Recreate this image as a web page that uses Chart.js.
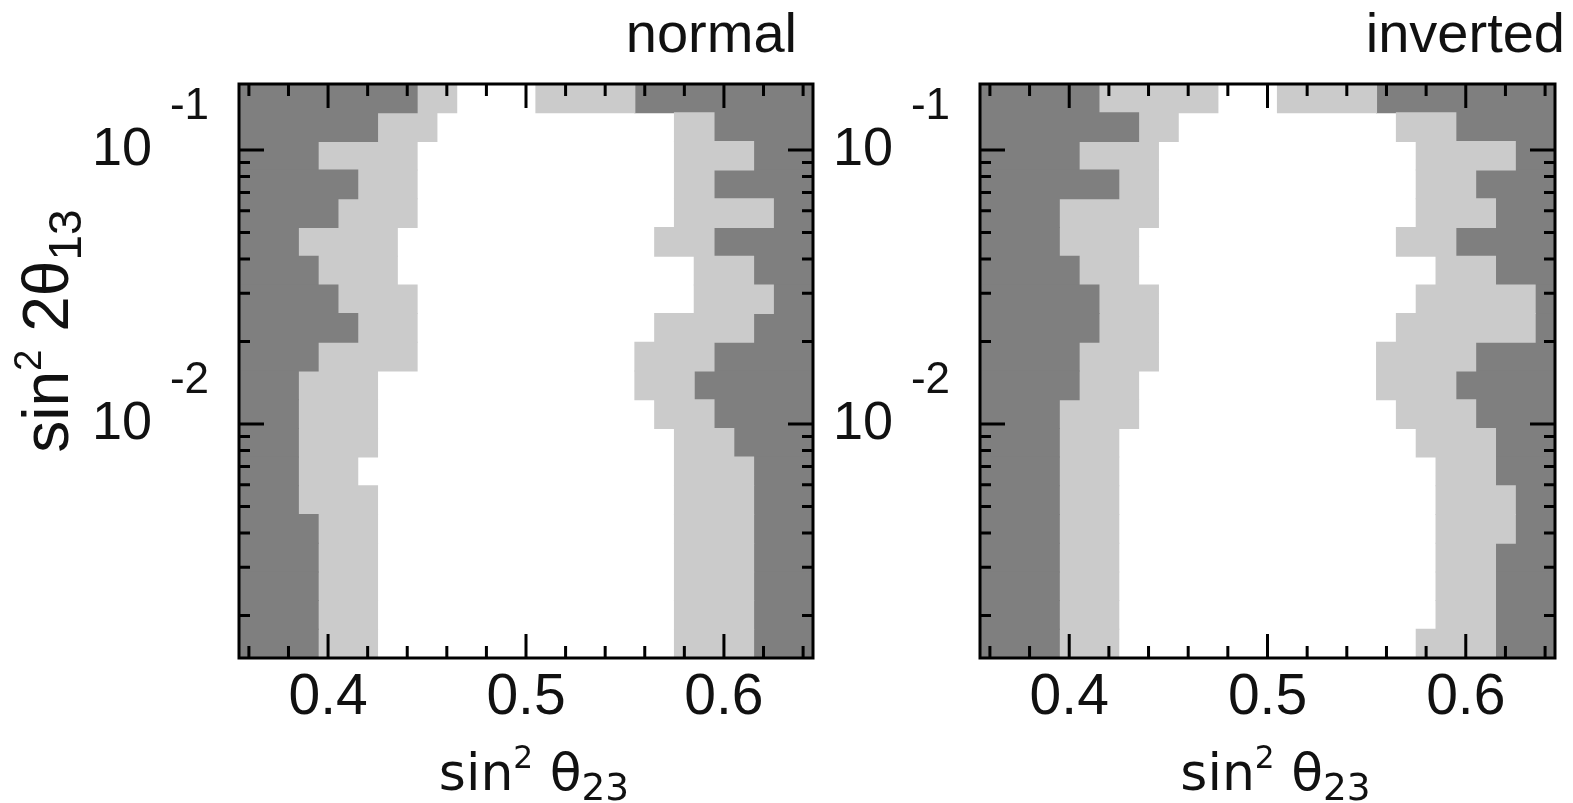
<!DOCTYPE html>
<html>
<head>
<meta charset="utf-8">
<script src="https://cdn.jsdelivr.net/npm/chart.js@4.4.0/dist/chart.umd.min.js"></script>
<style>
  body { margin: 0; background: #fff; }
  #left { position: absolute; left: 0; top: 0; }
  #right { position: absolute; left: 830px; top: 0; }
</style>
</head>
<body>
<canvas id="left" width="830" height="803"></canvas>
<canvas id="right" width="743" height="803"></canvas>
<script>
// row centres of the sin^2 2theta13 grid (log spaced, top to bottom)
var filas = [0.15439, 0.12133, 0.095324, 0.074895, 0.058842, 0.046235, 0.036323, 0.028541, 0.022424, 0.017618,
             0.013843, 0.010876, 0.0085456, 0.0067138, 0.0052750, 0.0041446, 0.0032565, 0.0025586, 0.0020103, 0.0015794];

// band edges in sin^2 theta23, one value per row
// normal hierarchy
var normalEscuroIzq = [.445, .425, .395, .415, .405, .385, .395, .405, .415, .395, .385, .385, .385, .385, .385, .395, .395, .395, .395, .395];
var normalClaroIzq  = [.465, .455, .445, .445, .445, .435, .435, .445, .445, .445, .425, .425, .425, .415, .425, .425, .425, .425, .425, .425];
var normalClaroDer  = [.505, .575, .575, .575, .575, .565, .585, .585, .565, .555, .555, .565, .575, .575, .575, .575, .575, .575, .575, .575];
var normalEscuroDer = [.555, .595, .615, .595, .625, .595, .615, .625, .615, .595, .585, .595, .605, .615, .615, .615, .615, .615, .615, .615];
// inverted hierarchy
var invEscuroIzq = [.415, .435, .405, .425, .395, .395, .405, .415, .415, .405, .405, .395, .395, .395, .395, .395, .395, .395, .395, .395];
var invClaroIzq  = [.475, .455, .445, .445, .445, .435, .435, .445, .445, .445, .435, .435, .425, .425, .425, .425, .425, .425, .425, .425];
var invClaroDer  = [.505, .565, .575, .575, .575, .565, .585, .575, .565, .555, .555, .565, .575, .585, .585, .585, .585, .585, .585, .575];
var invEscuroDer = [.555, .595, .625, .605, .615, .595, .615, .635, .635, .605, .595, .605, .615, .615, .625, .625, .615, .615, .615, .615];

var xMin = 0.355, xMax = 0.645;
var yMin = 0.0014, yMax = 0.1742;

var xEtiquetas = [0.4, 0.5, 0.6];
var xMarcas = [0.36, 0.38, 0.4, 0.42, 0.44, 0.46, 0.48, 0.5, 0.52, 0.54, 0.56, 0.58, 0.6, 0.62, 0.64];
var yEtiquetas = [0.01, 0.1];
var yExponentes = ['-2', '-1'];
var yMarcas = [0.002, 0.003, 0.004, 0.005, 0.006, 0.007, 0.008, 0.009, 0.01,
               0.02, 0.03, 0.04, 0.05, 0.06, 0.07, 0.08, 0.09, 0.1];

// axis titles: [text, size factor, baseline shift in em]
var tituloX = [['sin', 1, 0], ['2', 0.6, -0.42], [' θ', 1, 0], ['23', 0.72, 0.2]];
var tituloY = [['sin', 1, 0], ['2', 0.6, -0.42], [' 2θ', 1, 0], ['13', 0.72, 0.2]];

var escuro = '#7f7f7f';
var claro = '#cbcbcb';
var arial = '"Liberation Sans", Arial, sans-serif';
var verdana = '"DejaVu Sans", Verdana, sans-serif';

function Barras(lo, hi, color) {
    return {
        data: filas.map(function (f, i) {
            return { y: f, x: [typeof lo === 'number' ? lo : lo[i], typeof hi === 'number' ? hi : hi[i]] };
        }),
        backgroundColor: color,
        borderWidth: 0,
        inflateAmount: 0.5,
        grouped: false,
        barPercentage: 1,
        categoryPercentage: 1
    };
}

function TextoRico(ctx, partes, tam, familia) {
    var ancho = 0;
    partes.forEach(function (p) {
        ctx.font = (tam * p[1]) + 'px ' + familia;
        ancho += ctx.measureText(p[0]).width;
    });
    var x = -ancho / 2;
    partes.forEach(function (p) {
        ctx.font = (tam * p[1]) + 'px ' + familia;
        ctx.fillText(p[0], x, p[2] * tam);
        x += ctx.measureText(p[0]).width;
    });
}

// frame, inward ticks, exponents and titles
var marco = {
    id: 'marco',
    afterDatasetsDraw(chart, args, opts) {
        var ctx = chart.ctx, a = chart.chartArea;
        var x = chart.scales.x, y = chart.scales.y;
        ctx.save();
        ctx.strokeStyle = '#000';
        ctx.lineWidth = 3;
        ctx.beginPath();
        xMarcas.forEach(function (v) {
            var px = x.getPixelForValue(v);
            var len = xEtiquetas.indexOf(v) >= 0 ? 24 : 12;
            ctx.moveTo(px, a.bottom); ctx.lineTo(px, a.bottom - len);
            ctx.moveTo(px, a.top); ctx.lineTo(px, a.top + len);
        });
        yMarcas.forEach(function (v) {
            var py = y.getPixelForValue(v);
            var len = yEtiquetas.indexOf(v) >= 0 ? 25 : 11;
            ctx.moveTo(a.left, py); ctx.lineTo(a.left + len, py);
            ctx.moveTo(a.right, py); ctx.lineTo(a.right - len, py);
        });
        ctx.stroke();
        ctx.strokeRect(a.left, a.top, a.right - a.left, a.bottom - a.top);

        ctx.fillStyle = '#111';
        ctx.textBaseline = 'alphabetic';
        ctx.textAlign = 'right';
        ctx.font = '44px ' + arial;
        yEtiquetas.forEach(function (v, i) {
            ctx.fillText(yExponentes[i], a.left - 30, y.getPixelForValue(v) - 31);
        });

        ctx.font = '56px ' + arial;
        ctx.fillText(opts.texto, a.right + opts.dx, 52);

        ctx.textAlign = 'left';
        ctx.save();
        ctx.translate((a.left + a.right) / 2 + 8, 790);
        TextoRico(ctx, tituloX, 52, verdana);
        ctx.restore();

        if (opts.tituloY) {
            ctx.save();
            ctx.translate(68, (a.top + a.bottom) / 2 - 40);
            ctx.rotate(-Math.PI / 2);
            TextoRico(ctx, tituloY, 64, arial);
            ctx.restore();
        }
        ctx.restore();
    }
};

function Opciones(titulo, dx, yAncho, derecha, conTituloY) {
    return {
        responsive: false,
        animation: false,
        indexAxis: 'y',
        layout: { padding: { top: 84, right: derecha, left: 0, bottom: 0 } },
        plugins: {
            legend: { display: false },
            tooltip: { enabled: false },
            marco: { texto: titulo, dx: dx, tituloY: conTituloY }
        },
        scales: {
            x: {
                type: 'linear',
                min: xMin,
                max: xMax,
                position: 'bottom',
                grid: { display: false, drawTicks: false },
                border: { display: false },
                afterBuildTicks: function (s) { s.ticks = xEtiquetas.map(function (v) { return { value: v }; }); },
                afterFit: function (s) { s.height = 145; s.paddingLeft = 0; s.paddingRight = 0; },
                ticks: {
                    padding: 6,
                    color: '#111',
                    font: { family: arial, size: 57 },
                    callback: function (v) { return v.toFixed(1); }
                }
            },
            y: {
                type: 'logarithmic',
                min: yMin,
                max: yMax,
                position: 'left',
                grid: { display: false, drawTicks: false },
                border: { display: false },
                afterBuildTicks: function (s) { s.ticks = yEtiquetas.map(function (v) { return { value: v }; }); },
                afterFit: function (s) { s.width = yAncho; s.paddingTop = 0; s.paddingBottom = 0; },
                ticks: {
                    padding: 87,
                    color: '#111',
                    font: { family: arial, size: 54 },
                    callback: function () { return '10'; }
                }
            }
        }
    };
}

var graficoNormal = new Chart(document.getElementById('left'), {
    type: 'bar',
    data: {
        datasets: [
            Barras(xMin, normalEscuroIzq, escuro),
            Barras(normalEscuroIzq, normalClaroIzq, claro),
            Barras(normalClaroDer, normalEscuroDer, claro),
            Barras(normalEscuroDer, xMax, escuro)
        ]
    },
    options: Opciones('normal', -16, 239, 17, true),
    plugins: [marco]
});

var graficoInvertido = new Chart(document.getElementById('right'), {
    type: 'bar',
    data: {
        datasets: [
            Barras(xMin, invEscuroIzq, escuro),
            Barras(invEscuroIzq, invClaroIzq, claro),
            Barras(invClaroDer, invEscuroDer, claro),
            Barras(invEscuroDer, xMax, escuro)
        ]
    },
    options: Opciones('inverted', 10, 150, 18, false),
    plugins: [marco]
});
</script>
</body>
</html>
